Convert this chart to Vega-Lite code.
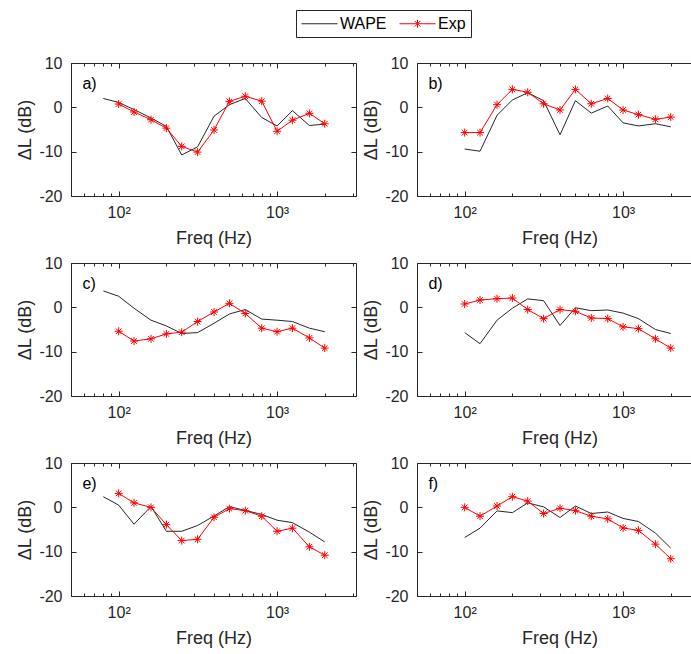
{
  "$schema": "https://vega.github.io/schema/vega-lite/v6.json",
  "padding": {"left": 16, "top": 9, "right": 0, "bottom": 0},
  "data": {"values": [
    {"p":"a)","s":"WAPE","f":80,"v":2.0},{"p":"a)","s":"WAPE","f":100,"v":1.1},{"p":"a)","s":"WAPE","f":125,"v":-0.5},{"p":"a)","s":"WAPE","f":160,"v":-2.4},{"p":"a)","s":"WAPE","f":200,"v":-4.3},{"p":"a)","s":"WAPE","f":250,"v":-10.75},{"p":"a)","s":"WAPE","f":315,"v":-8.9},{"p":"a)","s":"WAPE","f":400,"v":-2.0},{"p":"a)","s":"WAPE","f":500,"v":0.6},{"p":"a)","s":"WAPE","f":630,"v":2.0},{"p":"a)","s":"WAPE","f":800,"v":-2.3},{"p":"a)","s":"WAPE","f":1000,"v":-4.2},{"p":"a)","s":"WAPE","f":1250,"v":-0.75},{"p":"a)","s":"WAPE","f":1600,"v":-4.1},{"p":"a)","s":"WAPE","f":2000,"v":-3.8},
    {"p":"a)","s":"Exp","f":100,"v":0.75},{"p":"a)","s":"Exp","f":125,"v":-1.05},{"p":"a)","s":"Exp","f":160,"v":-2.8},{"p":"a)","s":"Exp","f":200,"v":-4.7},{"p":"a)","s":"Exp","f":250,"v":-8.8},{"p":"a)","s":"Exp","f":315,"v":-10.1},{"p":"a)","s":"Exp","f":400,"v":-5.1},{"p":"a)","s":"Exp","f":500,"v":1.35},{"p":"a)","s":"Exp","f":630,"v":2.5},{"p":"a)","s":"Exp","f":800,"v":1.4},{"p":"a)","s":"Exp","f":1000,"v":-5.4},{"p":"a)","s":"Exp","f":1250,"v":-2.9},{"p":"a)","s":"Exp","f":1600,"v":-1.35},{"p":"a)","s":"Exp","f":2000,"v":-3.7},
    {"p":"b)","s":"WAPE","f":100,"v":-9.4},{"p":"b)","s":"WAPE","f":125,"v":-9.9},{"p":"b)","s":"WAPE","f":160,"v":-1.8},{"p":"b)","s":"WAPE","f":200,"v":1.65},{"p":"b)","s":"WAPE","f":250,"v":3.3},{"p":"b)","s":"WAPE","f":315,"v":1.5},{"p":"b)","s":"WAPE","f":400,"v":-6.2},{"p":"b)","s":"WAPE","f":500,"v":1.5},{"p":"b)","s":"WAPE","f":630,"v":-1.3},{"p":"b)","s":"WAPE","f":800,"v":0.3},{"p":"b)","s":"WAPE","f":1000,"v":-3.5},{"p":"b)","s":"WAPE","f":1250,"v":-4.2},{"p":"b)","s":"WAPE","f":1600,"v":-3.7},{"p":"b)","s":"WAPE","f":2000,"v":-4.4},
    {"p":"b)","s":"Exp","f":100,"v":-5.7},{"p":"b)","s":"Exp","f":125,"v":-5.7},{"p":"b)","s":"Exp","f":160,"v":0.6},{"p":"b)","s":"Exp","f":200,"v":4.05},{"p":"b)","s":"Exp","f":250,"v":3.4},{"p":"b)","s":"Exp","f":315,"v":0.8},{"p":"b)","s":"Exp","f":400,"v":-0.6},{"p":"b)","s":"Exp","f":500,"v":4.05},{"p":"b)","s":"Exp","f":630,"v":0.8},{"p":"b)","s":"Exp","f":800,"v":2.0},{"p":"b)","s":"Exp","f":1000,"v":-0.6},{"p":"b)","s":"Exp","f":1250,"v":-1.65},{"p":"b)","s":"Exp","f":1600,"v":-2.7},{"p":"b)","s":"Exp","f":2000,"v":-2.2},
    {"p":"c)","s":"WAPE","f":80,"v":3.7},{"p":"c)","s":"WAPE","f":100,"v":2.5},{"p":"c)","s":"WAPE","f":125,"v":-0.2},{"p":"c)","s":"WAPE","f":160,"v":-2.9},{"p":"c)","s":"WAPE","f":200,"v":-4.2},{"p":"c)","s":"WAPE","f":250,"v":-5.9},{"p":"c)","s":"WAPE","f":315,"v":-5.7},{"p":"c)","s":"WAPE","f":400,"v":-3.6},{"p":"c)","s":"WAPE","f":500,"v":-1.5},{"p":"c)","s":"WAPE","f":630,"v":-0.5},{"p":"c)","s":"WAPE","f":800,"v":-2.65},{"p":"c)","s":"WAPE","f":1000,"v":-2.9},{"p":"c)","s":"WAPE","f":1250,"v":-3.2},{"p":"c)","s":"WAPE","f":1600,"v":-4.7},{"p":"c)","s":"WAPE","f":2000,"v":-5.5},
    {"p":"c)","s":"Exp","f":100,"v":-5.4},{"p":"c)","s":"Exp","f":125,"v":-7.6},{"p":"c)","s":"Exp","f":160,"v":-7.1},{"p":"c)","s":"Exp","f":200,"v":-6.0},{"p":"c)","s":"Exp","f":250,"v":-5.6},{"p":"c)","s":"Exp","f":315,"v":-3.2},{"p":"c)","s":"Exp","f":400,"v":-1.05},{"p":"c)","s":"Exp","f":500,"v":0.9},{"p":"c)","s":"Exp","f":630,"v":-1.4},{"p":"c)","s":"Exp","f":800,"v":-4.7},{"p":"c)","s":"Exp","f":1000,"v":-5.5},{"p":"c)","s":"Exp","f":1250,"v":-4.7},{"p":"c)","s":"Exp","f":1600,"v":-6.9},{"p":"c)","s":"Exp","f":2000,"v":-9.2},
    {"p":"d)","s":"WAPE","f":100,"v":-5.7},{"p":"d)","s":"WAPE","f":125,"v":-8.2},{"p":"d)","s":"WAPE","f":160,"v":-2.9},{"p":"d)","s":"WAPE","f":200,"v":-0.2},{"p":"d)","s":"WAPE","f":250,"v":1.9},{"p":"d)","s":"WAPE","f":315,"v":1.5},{"p":"d)","s":"WAPE","f":400,"v":-4.1},{"p":"d)","s":"WAPE","f":500,"v":-0.1},{"p":"d)","s":"WAPE","f":630,"v":-0.75},{"p":"d)","s":"WAPE","f":800,"v":-0.6},{"p":"d)","s":"WAPE","f":1000,"v":-1.3},{"p":"d)","s":"WAPE","f":1250,"v":-2.55},{"p":"d)","s":"WAPE","f":1600,"v":-5.0},{"p":"d)","s":"WAPE","f":2000,"v":-5.9},
    {"p":"d)","s":"Exp","f":100,"v":0.75},{"p":"d)","s":"Exp","f":125,"v":1.65},{"p":"d)","s":"Exp","f":160,"v":1.95},{"p":"d)","s":"Exp","f":200,"v":2.1},{"p":"d)","s":"Exp","f":250,"v":-0.5},{"p":"d)","s":"Exp","f":315,"v":-2.55},{"p":"d)","s":"Exp","f":400,"v":-0.5},{"p":"d)","s":"Exp","f":500,"v":-0.9},{"p":"d)","s":"Exp","f":630,"v":-2.4},{"p":"d)","s":"Exp","f":800,"v":-2.55},{"p":"d)","s":"Exp","f":1000,"v":-4.4},{"p":"d)","s":"Exp","f":1250,"v":-4.8},{"p":"d)","s":"Exp","f":1600,"v":-7.1},{"p":"d)","s":"Exp","f":2000,"v":-9.2},
    {"p":"e)","s":"WAPE","f":80,"v":2.4},{"p":"e)","s":"WAPE","f":100,"v":0.5},{"p":"e)","s":"WAPE","f":125,"v":-3.8},{"p":"e)","s":"WAPE","f":160,"v":0.2},{"p":"e)","s":"WAPE","f":200,"v":-5.4},{"p":"e)","s":"WAPE","f":250,"v":-5.4},{"p":"e)","s":"WAPE","f":315,"v":-4.1},{"p":"e)","s":"WAPE","f":400,"v":-1.95},{"p":"e)","s":"WAPE","f":500,"v":0.15},{"p":"e)","s":"WAPE","f":630,"v":-0.7},{"p":"e)","s":"WAPE","f":800,"v":-1.6},{"p":"e)","s":"WAPE","f":1000,"v":-2.9},{"p":"e)","s":"WAPE","f":1250,"v":-3.45},{"p":"e)","s":"WAPE","f":1600,"v":-5.6},{"p":"e)","s":"WAPE","f":2000,"v":-7.8},
    {"p":"e)","s":"Exp","f":100,"v":3.15},{"p":"e)","s":"Exp","f":125,"v":1.0},{"p":"e)","s":"Exp","f":160,"v":0.0},{"p":"e)","s":"Exp","f":200,"v":-3.9},{"p":"e)","s":"Exp","f":250,"v":-7.5},{"p":"e)","s":"Exp","f":315,"v":-7.2},{"p":"e)","s":"Exp","f":400,"v":-2.25},{"p":"e)","s":"Exp","f":500,"v":-0.3},{"p":"e)","s":"Exp","f":630,"v":-0.75},{"p":"e)","s":"Exp","f":800,"v":-2.0},{"p":"e)","s":"Exp","f":1000,"v":-5.4},{"p":"e)","s":"Exp","f":1250,"v":-4.7},{"p":"e)","s":"Exp","f":1600,"v":-8.9},{"p":"e)","s":"Exp","f":2000,"v":-10.8},
    {"p":"f)","s":"WAPE","f":100,"v":-6.8},{"p":"f)","s":"WAPE","f":125,"v":-4.7},{"p":"f)","s":"WAPE","f":160,"v":-0.8},{"p":"f)","s":"WAPE","f":200,"v":-1.2},{"p":"f)","s":"WAPE","f":250,"v":1.0},{"p":"f)","s":"WAPE","f":315,"v":0.1},{"p":"f)","s":"WAPE","f":400,"v":-2.3},{"p":"f)","s":"WAPE","f":500,"v":0.3},{"p":"f)","s":"WAPE","f":630,"v":-1.4},{"p":"f)","s":"WAPE","f":800,"v":-1.05},{"p":"f)","s":"WAPE","f":1000,"v":-2.5},{"p":"f)","s":"WAPE","f":1250,"v":-3.2},{"p":"f)","s":"WAPE","f":1600,"v":-5.8},{"p":"f)","s":"WAPE","f":2000,"v":-9.2},
    {"p":"f)","s":"Exp","f":100,"v":0.0},{"p":"f)","s":"Exp","f":125,"v":-2.0},{"p":"f)","s":"Exp","f":160,"v":0.3},{"p":"f)","s":"Exp","f":200,"v":2.4},{"p":"f)","s":"Exp","f":250,"v":1.4},{"p":"f)","s":"Exp","f":315,"v":-1.4},{"p":"f)","s":"Exp","f":400,"v":-0.2},{"p":"f)","s":"Exp","f":500,"v":-0.75},{"p":"f)","s":"Exp","f":630,"v":-2.0},{"p":"f)","s":"Exp","f":800,"v":-2.6},{"p":"f)","s":"Exp","f":1000,"v":-4.65},{"p":"f)","s":"Exp","f":1250,"v":-5.2},{"p":"f)","s":"Exp","f":1600,"v":-8.3},{"p":"f)","s":"Exp","f":2000,"v":-11.6}
  ]},
  "columns": 2,
  "spacing": {"row": 6, "column": 5},
  "resolve": {"scale": {"color": "shared"}, "legend": {"color": "shared"}},
  "concat": [
    {"width": 285, "height": 133, "transform": [{"filter": "datum.p == 'a)'"}],
     "resolve": {"axis": {"x": "independent", "y": "independent"}},
     "layer": [
      {"mark": {"type": "line", "strokeWidth": 1},
       "encoding": {
        "x": {"field": "f", "type": "quantitative", "scale": {"type": "log", "domain": [50, 3150], "nice": false},
              "axis": {"orient": "bottom", "title": "Freq (Hz)", "grid": false, "domain": false, "values": [50,60,70,80,90,100,200,300,400,500,600,700,800,900,1000,2000,3000], "labelExpr": "datum.value == 100 ? '10²' : datum.value == 1000 ? '10³' : ''", "labelOverlap": false, "labelFlush": false, "tickSize": {"condition": {"test": "datum.value == 100 || datum.value == 1000", "value": -5}, "value": -3}, "labelPadding": 13, "titlePadding": 7}},
        "y": {"field": "v", "type": "quantitative", "scale": {"domain": [-20, 10], "nice": false, "zero": false},
              "axis": {"orient": "left", "title": "ΔL (dB)", "grid": false, "domain": false, "values": [-20, -10, 0, 10], "labelExpr": "toString(datum.value)", "tickSize": -5, "labelPadding": 14, "titlePadding": 4}},
        "color": {"field": "s", "type": "nominal", "scale": {"domain": ["WAPE", "Exp"], "range": ["#262626", "#ff0000"]},
                  "legend": {"orient": "none", "direction": "horizontal", "title": null, "legendX": 225, "legendY": -53,
                             "strokeColor": "#262626", "padding": 5, "fillColor": "white", "symbolSize": 256, "symbolStrokeWidth": 1, "labelFontSize": 16, "labelColor": "#000000", "columnPadding": 10, "labelOffset": 22,
                             "encode": {"symbols": {"update": {"shape": {"signal": "datum.value == 'Exp' ? 'M-1,0L3.5,0M1.25,-0.5L1.25,0.5M0.9,-0.35L1.6,0.35M0.9,0.35L1.6,-0.35' : 'M-1,0L3.5,0'"}}}}}}}},
      {"transform": [{"filter": "datum.s == 'Exp'"}],
       "mark": {"type": "point", "shape": "M-1,0L1,0M0,-1L0,1M-0.7,-0.7L0.7,0.7M-0.7,0.7L0.7,-0.7", "filled": false, "stroke": "#ff0000", "strokeWidth": 1, "size": 64, "opacity": 1},
       "encoding": {"x": {"field": "f", "type": "quantitative", "axis": null}, "y": {"field": "v", "type": "quantitative", "axis": null}}},
      {"transform": [{"aggregate": [{"op": "count", "as": "n"}], "groupby": ["p"]}],
       "mark": {"type": "text", "align": "left", "baseline": "middle", "fontSize": 16, "color": "#000000"},
       "encoding": {
        "x": {"datum": 59, "type": "quantitative", "axis": {"orient": "top", "title": null, "labels": false, "grid": false, "domain": false, "values": [50,60,70,80,90,100,200,300,400,500,600,700,800,900,1000,2000,3000], "tickSize": {"condition": {"test": "datum.value == 100 || datum.value == 1000", "value": -5}, "value": -3}}},
        "y": {"datum": 5.3, "type": "quantitative", "axis": {"orient": "right", "title": null, "labels": false, "grid": false, "domain": false, "values": [-20, -10, 0, 10], "tickSize": -5}},
        "text": {"field": "p"}}}
     ]},
    {"width": 285, "height": 133, "transform": [{"filter": "datum.p == 'b)'"}],
     "resolve": {"axis": {"x": "independent", "y": "independent"}},
     "layer": [
      {"mark": {"type": "line", "strokeWidth": 1},
       "encoding": {
        "x": {"field": "f", "type": "quantitative", "scale": {"type": "log", "domain": [50, 3150], "nice": false},
              "axis": {"orient": "bottom", "title": "Freq (Hz)", "grid": false, "domain": false, "values": [50,60,70,80,90,100,200,300,400,500,600,700,800,900,1000,2000,3000], "labelExpr": "datum.value == 100 ? '10²' : datum.value == 1000 ? '10³' : ''", "labelOverlap": false, "labelFlush": false, "tickSize": {"condition": {"test": "datum.value == 100 || datum.value == 1000", "value": -5}, "value": -3}, "labelPadding": 13, "titlePadding": 7}},
        "y": {"field": "v", "type": "quantitative", "scale": {"domain": [-20, 10], "nice": false, "zero": false},
              "axis": {"orient": "left", "title": "ΔL (dB)", "grid": false, "domain": false, "values": [-20, -10, 0, 10], "labelExpr": "toString(datum.value)", "tickSize": -5, "labelPadding": 14, "titlePadding": 4}},
        "color": {"field": "s", "type": "nominal", "scale": {"domain": ["WAPE", "Exp"], "range": ["#262626", "#ff0000"]}}}},
      {"transform": [{"filter": "datum.s == 'Exp'"}],
       "mark": {"type": "point", "shape": "M-1,0L1,0M0,-1L0,1M-0.7,-0.7L0.7,0.7M-0.7,0.7L0.7,-0.7", "filled": false, "stroke": "#ff0000", "strokeWidth": 1, "size": 64, "opacity": 1},
       "encoding": {"x": {"field": "f", "type": "quantitative", "axis": null}, "y": {"field": "v", "type": "quantitative", "axis": null}}},
      {"transform": [{"aggregate": [{"op": "count", "as": "n"}], "groupby": ["p"]}],
       "mark": {"type": "text", "align": "left", "baseline": "middle", "fontSize": 16, "color": "#000000"},
       "encoding": {
        "x": {"datum": 59, "type": "quantitative", "axis": {"orient": "top", "title": null, "labels": false, "grid": false, "domain": false, "values": [50,60,70,80,90,100,200,300,400,500,600,700,800,900,1000,2000,3000], "tickSize": {"condition": {"test": "datum.value == 100 || datum.value == 1000", "value": -5}, "value": -3}}},
        "y": {"datum": 5.3, "type": "quantitative", "axis": {"orient": "right", "title": null, "labels": false, "grid": false, "domain": false, "values": [-20, -10, 0, 10], "tickSize": -5}},
        "text": {"field": "p"}}}
     ]},
    {"width": 285, "height": 133, "transform": [{"filter": "datum.p == 'c)'"}],
     "resolve": {"axis": {"x": "independent", "y": "independent"}},
     "layer": [
      {"mark": {"type": "line", "strokeWidth": 1},
       "encoding": {
        "x": {"field": "f", "type": "quantitative", "scale": {"type": "log", "domain": [50, 3150], "nice": false},
              "axis": {"orient": "bottom", "title": "Freq (Hz)", "grid": false, "domain": false, "values": [50,60,70,80,90,100,200,300,400,500,600,700,800,900,1000,2000,3000], "labelExpr": "datum.value == 100 ? '10²' : datum.value == 1000 ? '10³' : ''", "labelOverlap": false, "labelFlush": false, "tickSize": {"condition": {"test": "datum.value == 100 || datum.value == 1000", "value": -5}, "value": -3}, "labelPadding": 13, "titlePadding": 7}},
        "y": {"field": "v", "type": "quantitative", "scale": {"domain": [-20, 10], "nice": false, "zero": false},
              "axis": {"orient": "left", "title": "ΔL (dB)", "grid": false, "domain": false, "values": [-20, -10, 0, 10], "labelExpr": "toString(datum.value)", "tickSize": -5, "labelPadding": 14, "titlePadding": 4}},
        "color": {"field": "s", "type": "nominal", "scale": {"domain": ["WAPE", "Exp"], "range": ["#262626", "#ff0000"]}}}},
      {"transform": [{"filter": "datum.s == 'Exp'"}],
       "mark": {"type": "point", "shape": "M-1,0L1,0M0,-1L0,1M-0.7,-0.7L0.7,0.7M-0.7,0.7L0.7,-0.7", "filled": false, "stroke": "#ff0000", "strokeWidth": 1, "size": 64, "opacity": 1},
       "encoding": {"x": {"field": "f", "type": "quantitative", "axis": null}, "y": {"field": "v", "type": "quantitative", "axis": null}}},
      {"transform": [{"aggregate": [{"op": "count", "as": "n"}], "groupby": ["p"]}],
       "mark": {"type": "text", "align": "left", "baseline": "middle", "fontSize": 16, "color": "#000000"},
       "encoding": {
        "x": {"datum": 59, "type": "quantitative", "axis": {"orient": "top", "title": null, "labels": false, "grid": false, "domain": false, "values": [50,60,70,80,90,100,200,300,400,500,600,700,800,900,1000,2000,3000], "tickSize": {"condition": {"test": "datum.value == 100 || datum.value == 1000", "value": -5}, "value": -3}}},
        "y": {"datum": 5.3, "type": "quantitative", "axis": {"orient": "right", "title": null, "labels": false, "grid": false, "domain": false, "values": [-20, -10, 0, 10], "tickSize": -5}},
        "text": {"field": "p"}}}
     ]},
    {"width": 285, "height": 133, "transform": [{"filter": "datum.p == 'd)'"}],
     "resolve": {"axis": {"x": "independent", "y": "independent"}},
     "layer": [
      {"mark": {"type": "line", "strokeWidth": 1},
       "encoding": {
        "x": {"field": "f", "type": "quantitative", "scale": {"type": "log", "domain": [50, 3150], "nice": false},
              "axis": {"orient": "bottom", "title": "Freq (Hz)", "grid": false, "domain": false, "values": [50,60,70,80,90,100,200,300,400,500,600,700,800,900,1000,2000,3000], "labelExpr": "datum.value == 100 ? '10²' : datum.value == 1000 ? '10³' : ''", "labelOverlap": false, "labelFlush": false, "tickSize": {"condition": {"test": "datum.value == 100 || datum.value == 1000", "value": -5}, "value": -3}, "labelPadding": 13, "titlePadding": 7}},
        "y": {"field": "v", "type": "quantitative", "scale": {"domain": [-20, 10], "nice": false, "zero": false},
              "axis": {"orient": "left", "title": "ΔL (dB)", "grid": false, "domain": false, "values": [-20, -10, 0, 10], "labelExpr": "toString(datum.value)", "tickSize": -5, "labelPadding": 14, "titlePadding": 4}},
        "color": {"field": "s", "type": "nominal", "scale": {"domain": ["WAPE", "Exp"], "range": ["#262626", "#ff0000"]}}}},
      {"transform": [{"filter": "datum.s == 'Exp'"}],
       "mark": {"type": "point", "shape": "M-1,0L1,0M0,-1L0,1M-0.7,-0.7L0.7,0.7M-0.7,0.7L0.7,-0.7", "filled": false, "stroke": "#ff0000", "strokeWidth": 1, "size": 64, "opacity": 1},
       "encoding": {"x": {"field": "f", "type": "quantitative", "axis": null}, "y": {"field": "v", "type": "quantitative", "axis": null}}},
      {"transform": [{"aggregate": [{"op": "count", "as": "n"}], "groupby": ["p"]}],
       "mark": {"type": "text", "align": "left", "baseline": "middle", "fontSize": 16, "color": "#000000"},
       "encoding": {
        "x": {"datum": 59, "type": "quantitative", "axis": {"orient": "top", "title": null, "labels": false, "grid": false, "domain": false, "values": [50,60,70,80,90,100,200,300,400,500,600,700,800,900,1000,2000,3000], "tickSize": {"condition": {"test": "datum.value == 100 || datum.value == 1000", "value": -5}, "value": -3}}},
        "y": {"datum": 5.3, "type": "quantitative", "axis": {"orient": "right", "title": null, "labels": false, "grid": false, "domain": false, "values": [-20, -10, 0, 10], "tickSize": -5}},
        "text": {"field": "p"}}}
     ]},
    {"width": 285, "height": 133, "transform": [{"filter": "datum.p == 'e)'"}],
     "resolve": {"axis": {"x": "independent", "y": "independent"}},
     "layer": [
      {"mark": {"type": "line", "strokeWidth": 1},
       "encoding": {
        "x": {"field": "f", "type": "quantitative", "scale": {"type": "log", "domain": [50, 3150], "nice": false},
              "axis": {"orient": "bottom", "title": "Freq (Hz)", "grid": false, "domain": false, "values": [50,60,70,80,90,100,200,300,400,500,600,700,800,900,1000,2000,3000], "labelExpr": "datum.value == 100 ? '10²' : datum.value == 1000 ? '10³' : ''", "labelOverlap": false, "labelFlush": false, "tickSize": {"condition": {"test": "datum.value == 100 || datum.value == 1000", "value": -5}, "value": -3}, "labelPadding": 13, "titlePadding": 7}},
        "y": {"field": "v", "type": "quantitative", "scale": {"domain": [-20, 10], "nice": false, "zero": false},
              "axis": {"orient": "left", "title": "ΔL (dB)", "grid": false, "domain": false, "values": [-20, -10, 0, 10], "labelExpr": "toString(datum.value)", "tickSize": -5, "labelPadding": 14, "titlePadding": 4}},
        "color": {"field": "s", "type": "nominal", "scale": {"domain": ["WAPE", "Exp"], "range": ["#262626", "#ff0000"]}}}},
      {"transform": [{"filter": "datum.s == 'Exp'"}],
       "mark": {"type": "point", "shape": "M-1,0L1,0M0,-1L0,1M-0.7,-0.7L0.7,0.7M-0.7,0.7L0.7,-0.7", "filled": false, "stroke": "#ff0000", "strokeWidth": 1, "size": 64, "opacity": 1},
       "encoding": {"x": {"field": "f", "type": "quantitative", "axis": null}, "y": {"field": "v", "type": "quantitative", "axis": null}}},
      {"transform": [{"aggregate": [{"op": "count", "as": "n"}], "groupby": ["p"]}],
       "mark": {"type": "text", "align": "left", "baseline": "middle", "fontSize": 16, "color": "#000000"},
       "encoding": {
        "x": {"datum": 59, "type": "quantitative", "axis": {"orient": "top", "title": null, "labels": false, "grid": false, "domain": false, "values": [50,60,70,80,90,100,200,300,400,500,600,700,800,900,1000,2000,3000], "tickSize": {"condition": {"test": "datum.value == 100 || datum.value == 1000", "value": -5}, "value": -3}}},
        "y": {"datum": 5.3, "type": "quantitative", "axis": {"orient": "right", "title": null, "labels": false, "grid": false, "domain": false, "values": [-20, -10, 0, 10], "tickSize": -5}},
        "text": {"field": "p"}}}
     ]},
    {"width": 285, "height": 133, "transform": [{"filter": "datum.p == 'f)'"}],
     "resolve": {"axis": {"x": "independent", "y": "independent"}},
     "layer": [
      {"mark": {"type": "line", "strokeWidth": 1},
       "encoding": {
        "x": {"field": "f", "type": "quantitative", "scale": {"type": "log", "domain": [50, 3150], "nice": false},
              "axis": {"orient": "bottom", "title": "Freq (Hz)", "grid": false, "domain": false, "values": [50,60,70,80,90,100,200,300,400,500,600,700,800,900,1000,2000,3000], "labelExpr": "datum.value == 100 ? '10²' : datum.value == 1000 ? '10³' : ''", "labelOverlap": false, "labelFlush": false, "tickSize": {"condition": {"test": "datum.value == 100 || datum.value == 1000", "value": -5}, "value": -3}, "labelPadding": 13, "titlePadding": 7}},
        "y": {"field": "v", "type": "quantitative", "scale": {"domain": [-20, 10], "nice": false, "zero": false},
              "axis": {"orient": "left", "title": "ΔL (dB)", "grid": false, "domain": false, "values": [-20, -10, 0, 10], "labelExpr": "toString(datum.value)", "tickSize": -5, "labelPadding": 14, "titlePadding": 4}},
        "color": {"field": "s", "type": "nominal", "scale": {"domain": ["WAPE", "Exp"], "range": ["#262626", "#ff0000"]}}}},
      {"transform": [{"filter": "datum.s == 'Exp'"}],
       "mark": {"type": "point", "shape": "M-1,0L1,0M0,-1L0,1M-0.7,-0.7L0.7,0.7M-0.7,0.7L0.7,-0.7", "filled": false, "stroke": "#ff0000", "strokeWidth": 1, "size": 64, "opacity": 1},
       "encoding": {"x": {"field": "f", "type": "quantitative", "axis": null}, "y": {"field": "v", "type": "quantitative", "axis": null}}},
      {"transform": [{"aggregate": [{"op": "count", "as": "n"}], "groupby": ["p"]}],
       "mark": {"type": "text", "align": "left", "baseline": "middle", "fontSize": 16, "color": "#000000"},
       "encoding": {
        "x": {"datum": 59, "type": "quantitative", "axis": {"orient": "top", "title": null, "labels": false, "grid": false, "domain": false, "values": [50,60,70,80,90,100,200,300,400,500,600,700,800,900,1000,2000,3000], "tickSize": {"condition": {"test": "datum.value == 100 || datum.value == 1000", "value": -5}, "value": -3}}},
        "y": {"datum": 5.3, "type": "quantitative", "axis": {"orient": "right", "title": null, "labels": false, "grid": false, "domain": false, "values": [-20, -10, 0, 10], "tickSize": -5}},
        "text": {"field": "p"}}}
     ]}
  ],
  "config": {
    "font": "Liberation Sans",
    "view": {"stroke": "#262626", "strokeWidth": 1},
    "axis": {"labelFontSize": 16, "titleFontSize": 18, "titleFontWeight": "normal", "labelColor": "#262626", "titleColor": "#262626", "tickColor": "#262626"},
    "legend": {"labelFont": "Liberation Sans"}
  }
}
